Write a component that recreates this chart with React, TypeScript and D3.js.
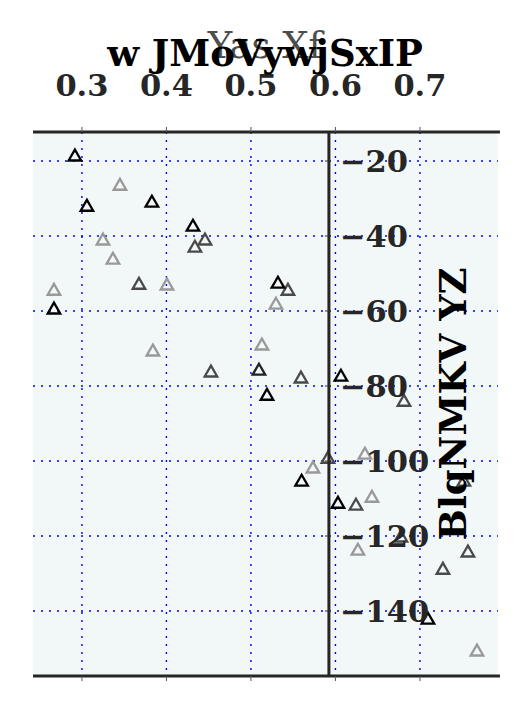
import React from "react";
import * as d3 from "d3";

const W = 531;
const H = 708;

const xTicks = [0.3, 0.4, 0.5, 0.6, 0.7];
const yTicks = [-20, -40, -60, -80, -100, -120, -140];

const blackX = [0.2917, 0.3059, 0.3828, 0.4314, 0.532, 0.2669, 0.519, 0.56, 0.6065, 0.603, 0.7095];
const blackY = [-18.9, -32.3, -31.2, -37.6, -52.8, -59.7, -82.7, -105.6, -77.6, -111.5, -142.4];

const darkX = [0.5095];
const darkY = [-76];

const midX = [0.4456, 0.4337, 0.3675, 0.5438, 0.4527, 0.5592, 0.5911, 0.6243, 0.6775, 0.7568, 0.7272, 0.6811, 0.752];
const midY = [-41.3, -43.2, -53.1, -54.7, -76.5, -78.1, -99.5, -112, -120.5, -124.5, -129.1, -84.3, -105.6];

const lightX = [0.345, 0.3249, 0.3367, 0.2669, 0.4006, 0.5296, 0.513, 0.384, 0.5734, 0.6349, 0.6432, 0.6266, 0.7675];
const lightY = [-26.7, -41.3, -46.4, -54.7, -53.3, -58.4, -69.3, -70.9, -102.1, -98.4, -109.9, -124, -150.9];

const series = [
  { xs: lightX, ys: lightY, color: "#999999" },
  { xs: midX, ys: midY, color: "#4a4a4a" },
  { xs: darkX, ys: darkY, color: "#222222" },
  { xs: blackX, ys: blackY, color: "#000000" },
];

const L = 33, R = 498, T = 132, B = 676;

export default function App() {
  const x = d3.scaleLinear().domain([0.2421, 0.7924]).range([L, R]);
  const y = d3.scaleLinear().domain([-12.27, -157.33]).range([T, B]);
  const spineX = x(0.5923);
  const tri = d3.symbol(d3.symbolTriangle, 68)() as string;
  const font = "'DejaVu Serif', serif";
  return (
    <svg width={W} height={H} style={{ position: "absolute", left: 0, top: 0 }}>
      <rect x={L} y={T} width={R - L} height={B - T} fill="#f2f7f7" />
      {xTicks.map((t) => (
        <line key={"gx" + t} x1={x(t)} x2={x(t)} y1={T} y2={B} stroke="#0000ff" strokeWidth={1.4} strokeDasharray="2 6" />
      ))}
      {yTicks.map((t) => (
        <line key={"gy" + t} x1={L} x2={R} y1={y(t)} y2={y(t)} stroke="#0000ff" strokeWidth={1.4} strokeDasharray="2 6" />
      ))}
      {series.map((s, si) =>
        s.xs.map((xv, i) => (
          <path
            key={si + "-" + i}
            d={tri}
            transform={`translate(${x(xv)},${y(s.ys[i])})`}
            fill="none"
            stroke={s.color}
            strokeWidth={2.3}
          />
        ))
      )}
      {/* spines */}
      <line x1={L} x2={R + 2} y1={T} y2={T} stroke="#262626" strokeWidth={3} />
      <line x1={L} x2={R + 2} y1={B} y2={B} stroke="#262626" strokeWidth={3} />
      <line x1={spineX} x2={spineX} y1={T} y2={B} stroke="#262626" strokeWidth={3} />
      {/* x ticks top & bottom */}
      {xTicks.map((t) => (
        <g key={"xt" + t}>
          <line x1={x(t)} x2={x(t)} y1={T - 5} y2={T} stroke="#555" strokeWidth={1} />
          <line x1={x(t)} x2={x(t)} y1={B} y2={B + 5} stroke="#555" strokeWidth={1} />
          <text x={x(t)} y={96} textAnchor="middle" fontFamily={font} fontWeight="bold" fontSize={30.5} fill="#262626">
            {t.toFixed(1)}
          </text>
        </g>
      ))}
      {/* y ticks */}
      {yTicks.map((t) => (
        <g key={"yt" + t}>
          <line x1={spineX - 4} x2={spineX} y1={y(t)} y2={y(t)} stroke="#333" strokeWidth={1} />
          <text x={340} y={y(t)} dy="0.36em" textAnchor="start" fontFamily={font} fontWeight="bold" fontSize={30.5} fill="#262626">
            {"\u2212" + Math.abs(t)}
          </text>
        </g>
      ))}
      {/* x label at top */}
      <text x={265} y={58} textAnchor="middle" fontFamily={font} fontSize={37} fill="#4d4d4d">
        Yas Xf
      </text>
      {/* title */}
      <text x={265} y={66} textAnchor="middle" fontFamily={font} fontWeight="bold" fontSize={37} fill="#000">
        w JMoVywjSxIP
      </text>
      {/* right y label */}
      <text
        transform={`translate(466,404) rotate(-90)`}
        textAnchor="middle"
        fontFamily={font}
        fontWeight="bold"
        fontSize={37}
        fill="#000"
      >
        BlqNMKV YZ
      </text>
    </svg>
  );
}
